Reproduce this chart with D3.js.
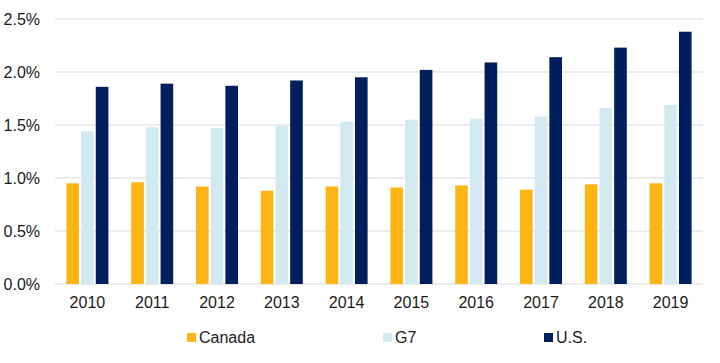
<!DOCTYPE html>
<html lang="en">
<head>
  <meta charset="UTF-8" />
  <title>bars</title>
  <script src="https://cdn.jsdelivr.net/npm/d3@7"></script>
  <style>
    body { margin: 0; background: #fff; overflow: hidden; }
    svg { display: block; }
    text { font-family: "Liberation Sans", Arial, sans-serif; fill: #1a1a1a; }
  </style>
</head>
<body>
  <svg id="svg"></svg>
<script>
  const years = ["2010", "2011", "2012", "2013", "2014", "2015", "2016", "2017", "2018", "2019"];
  const seriesNames = ["Canada", "G7", "U.S."];
  const canada = [0.95, 0.96, 0.92, 0.88, 0.92, 0.91, 0.93, 0.89, 0.94, 0.95];
  const g7 = [1.44, 1.48, 1.47, 1.49, 1.53, 1.55, 1.56, 1.58, 1.66, 1.69];
  const us = [1.86, 1.89, 1.87, 1.92, 1.95, 2.02, 2.09, 2.14, 2.23, 2.38];
  const yTicks = [0, 0.5, 1.0, 1.5, 2.0, 2.5];

  const colors = ["#FDB515", "#D3E9F2", "#001F5C"];
  const values = [canada, g7, us];

  const width = 720, height = 363;
  const margin = { top: 19, right: 17, bottom: 79, left: 55 };
  const innerWidth = width - margin.left - margin.right;
  const innerHeight = height - margin.top - margin.bottom;

  const svg = d3.select("#svg").attr("width", width).attr("height", height);
  const g = svg.append("g").attr("transform", `translate(${margin.left},${margin.top})`);

  const x = d3.scaleBand().domain(years).range([0, innerWidth]);
  const x1 = d3.scaleBand().domain(seriesNames).range([0, 42]).paddingInner(0.14);
  const y = d3.scaleLinear().domain([0, 2.5]).range([innerHeight, 0]);

  // gridlines
  g.selectAll(".grid").data(yTicks).join("line")
    .attr("x1", 0).attr("x2", innerWidth)
    .attr("y1", d => y(d)).attr("y2", d => y(d))
    .attr("stroke", "#d9d9d9").attr("stroke-width", 1);

  // y labels
  g.selectAll(".ylab").data(yTicks).join("text")
    .attr("x", -15).attr("y", d => y(d) + 6)
    .attr("text-anchor", "end").attr("font-size", 16)
    .text(d => d.toFixed(1) + "%");

  // bars
  const groups = g.selectAll(".yr").data(years).join("g")
    .attr("transform", d => `translate(${x(d) + x.bandwidth() / 2 - 21},0)`);
  groups.selectAll("rect").data((d, i) => seriesNames.map((s, j) => ({ s, v: values[j][i], j })))
    .join("rect")
    .attr("x", d => x1(d.s))
    .attr("width", x1.bandwidth())
    .attr("y", d => y(d.v))
    .attr("height", d => y(0) - y(d.v))
    .attr("fill", d => colors[d.j]);

  // x axis labels
  g.selectAll(".xlab").data(years).join("text")
    .attr("x", d => x(d) + x.bandwidth() / 2)
    .attr("y", innerHeight + 24)
    .attr("text-anchor", "middle").attr("font-size", 16)
    .text(d => d);

  // legend
  const legendX = [187, 383, 544];
  const leg = svg.selectAll(".leg").data(seriesNames).join("g")
    .attr("transform", (d, i) => `translate(${legendX[i]},333)`);
  leg.append("rect").attr("width", 9).attr("height", 9).attr("fill", (d, i) => colors[i]);
  leg.append("text").attr("x", 12).attr("y", 10).attr("font-size", 16).text(d => d);
</script>
</body>
</html>
